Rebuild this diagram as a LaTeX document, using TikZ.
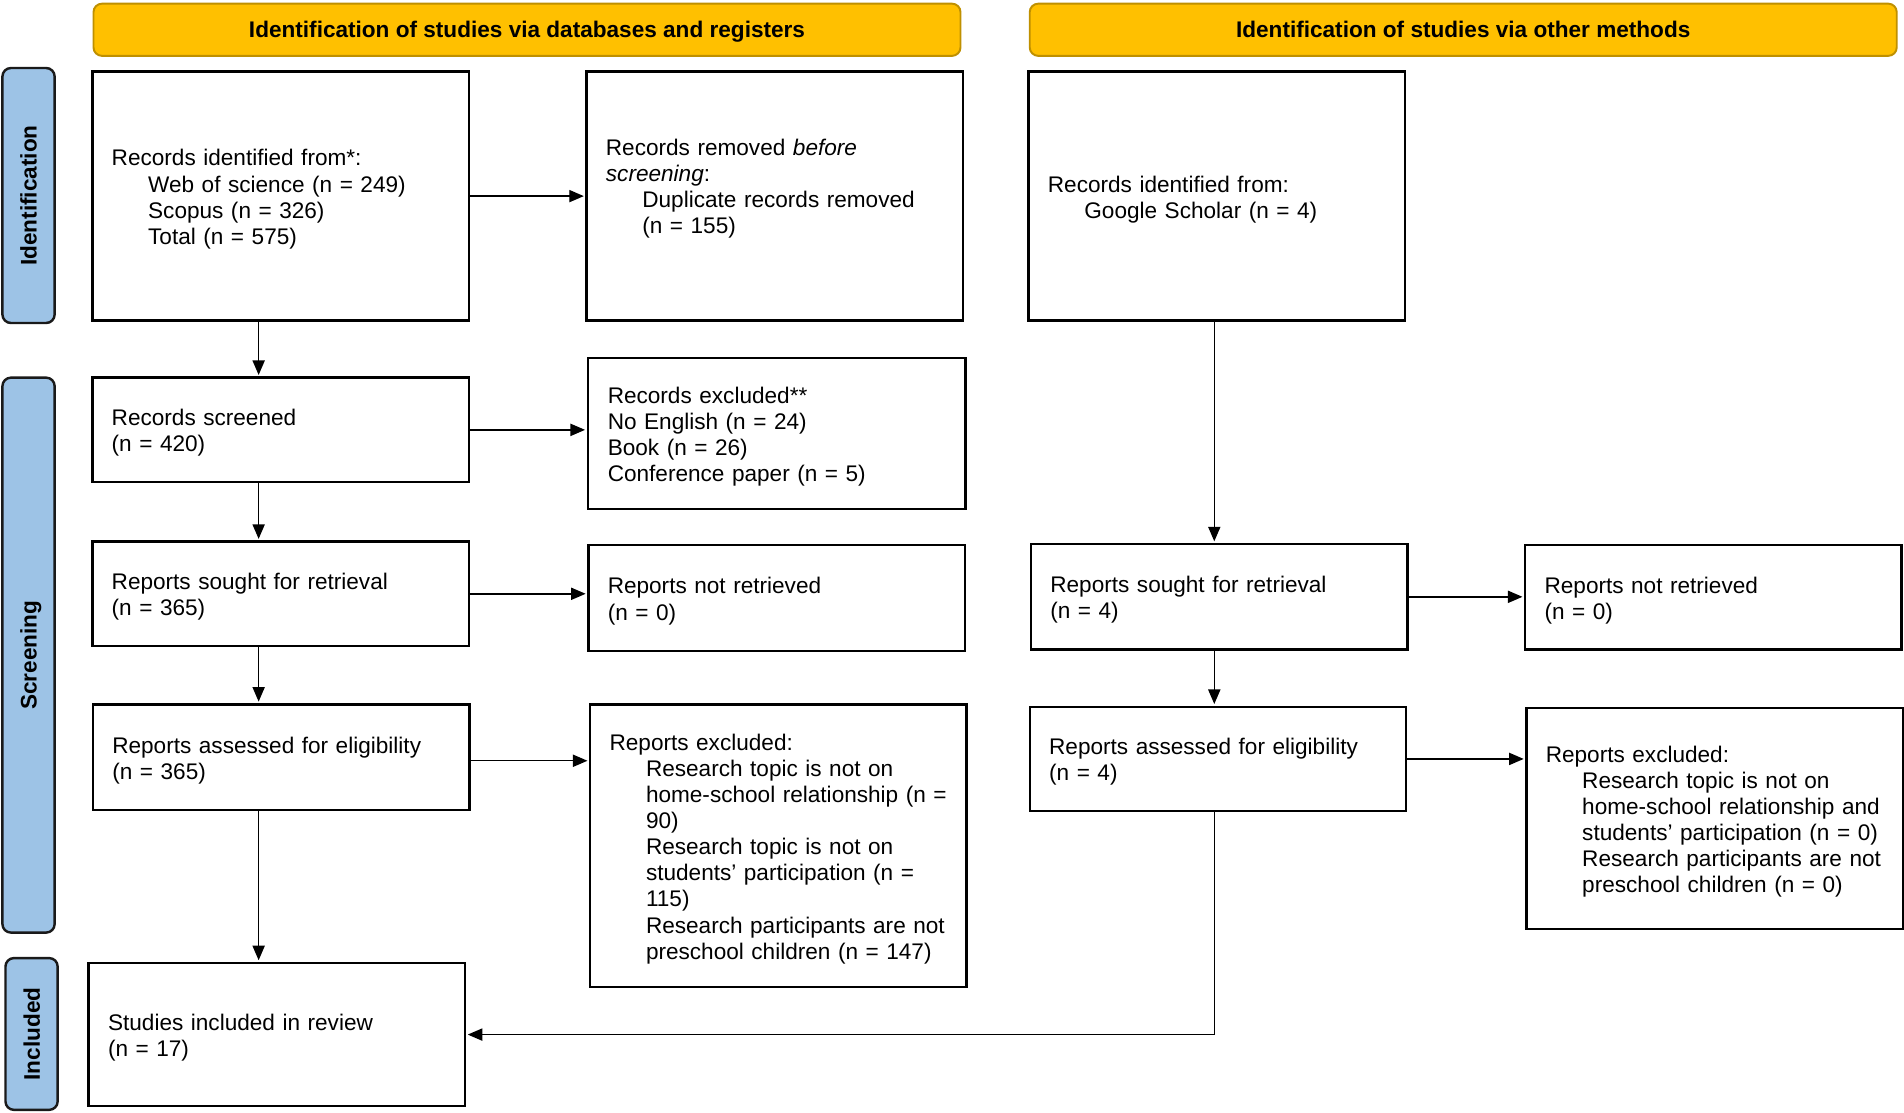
\documentclass[tikz,border=0pt]{standalone}
\usepackage{fontspec}
\setmainfont{Liberation Sans}
\usetikzlibrary{arrows.meta,calc}
\definecolor{yelF}{HTML}{FFC000}
\definecolor{yelD}{HTML}{BF9000}
\definecolor{bluF}{HTML}{9DC3E6}
\definecolor{bluD}{HTML}{1A1A1A}
\newcommand\myln[1]{\mbox{#1}}
\newcommand\myind[1]{\mbox{\hspace*{15pt}#1}}
\begin{document}
\begin{tikzpicture}[x=0.5pt,y=-0.5pt,
  txt/.style={font=\fontsize{9.3pt}{10.75pt}\selectfont},
  boxx/.style={txt,draw=black,line width=1pt,fill=white,rectangle,
    inner xsep=8pt,inner ysep=0pt,text width=139pt,align=left,
    minimum width=155pt,execute at begin node={\rule{0pt}{9.3pt}}},
  headbox/.style={draw=yelD,fill=yelF,line width=0.8pt,rounded corners=3.5pt,
    minimum width=357pt,minimum height=21.5pt,text depth=0pt,
    font=\fontsize{9.3pt}{10.75pt}\selectfont\bfseries},
  sidebox/.style={draw=bluD,fill=bluF,line width=1pt,rounded corners=3.5pt,
    minimum height=21.5pt,inner sep=0pt,text depth=0pt,rotate=90,
    font=\fontsize{9.3pt}{10.75pt}\selectfont\bfseries},
  arr/.style={line width=0.6pt,-{Triangle[length=6pt,width=5pt]},shorten >=0.6pt}
]
\useasboundingbox[fill=white] (0,0) rectangle (1568,915.8);

% headers
\node[headbox] (H1) at (434,24.5) {Identification of studies via databases and registers};
\node[headbox] (H2) at (1205,24.5) {Identification of studies via other methods};

% side labels
\node[sidebox,minimum width=105pt] (S1) at (23.5,161) {Identification};
\node[sidebox,minimum width=228.5pt] (S2) at (23.5,539.5) {Screening};
\node[sidebox,minimum width=62.5pt] (S3) at (26,851.5) {Included};

% left column
\node[boxx,minimum height=102.5pt] (B1) at (231,161.5) {\myln{Records identified from*:}\\
  \myind{Web of science (n = 249)}\\ \myind{Scopus (n = 326)}\\ \myind{Total (n = 575)}};
\node[boxx,minimum height=102.5pt] (B2) at (638,161.5) {\myln{Records removed \textit{before}}\\
  \myln{\textit{screening}:}\\ \myind{Duplicate records removed}\\ \myind{(n = 155)}\\ \mbox{}};
\node[boxx,minimum height=43pt] (B3) at (231,354) {\myln{Records screened}\\ \myln{(n = 420)}};
\node[boxx,minimum width=155.5pt,minimum height=62pt] (B4) at (639.5,357) {\myln{Records excluded**}\\
  \myln{No English (n = 24)}\\ \myln{Book (n = 26)}\\ \myln{Conference paper (n = 5)}};
\node[boxx,minimum height=43pt] (B5) at (231,489) {\myln{Reports sought for retrieval}\\ \myln{(n = 365)}};
\node[boxx,minimum height=43.5pt] (B6) at (639.5,492.5) {\myln{Reports not retrieved}\\ \myln{(n = 0)}};
\node[boxx,minimum height=43.5pt] (B7) at (231.5,623.5) {\myln{Reports assessed for eligibility}\\ \myln{(n = 365)}};
\node[boxx,minimum height=116.5pt] (B8) at (641,696.5) {\myln{Reports excluded:}\\
  \myind{Research topic is not on}\\ \myind{home-school relationship (n =}\\ \myind{90)}\\
  \myind{Research topic is not on}\\ \myind{students’ participation (n =}\\ \myind{115)}\\
  \myind{Research participants are not}\\ \myind{preschool children (n = 147)}};
\node[boxx,minimum height=59pt] (B9) at (228,852) {\myln{Studies included in review}\\ \myln{(n = 17)}};

% right column
\node[boxx,minimum height=102.5pt] (R1) at (1002,161.5) {\myln{Records identified from:}\\
  \myind{Google Scholar (n = 4)}};
\node[boxx,minimum height=43.5pt] (R2) at (1004,491.5) {\myln{Reports sought for retrieval}\\ \myln{(n = 4)}};
\node[boxx,minimum height=43pt] (R3) at (1411,492) {\myln{Reports not retrieved}\\ \myln{(n = 0)}};
\node[boxx,minimum height=43pt] (R4) at (1003,625) {\myln{Reports assessed for eligibility}\\ \myln{(n = 4)}};
\node[boxx,minimum height=91pt] (R5) at (1412,674) {\myln{Reports excluded:}\\
  \myind{Research topic is not on}\\ \myind{home-school relationship and}\\
  \myind{students’ participation (n = 0)}\\ \myind{Research participants are not}\\
  \myind{preschool children (n = 0)}};

% connectors
\coordinate (cL) at (213,0);
\coordinate (cR) at (1000,0);
\draw[arr] (B1.south -| cL) -- (B3.north -| cL);
\draw[arr] (B3.south -| cL) -- (B5.north -| cL);
\draw[arr] (B5.south -| cL) -- (B7.north -| cL);
\draw[arr] (B7.south -| cL) -- (B9.north -| cL);
\draw[arr] (B1.east) -- (B1.east -| B2.west);
\draw[arr] (B3.east) -- (B3.east -| B4.west);
\draw[arr] (B5.east) -- (B5.east -| B6.west);
\draw[arr] ([yshift=-1.5pt]B7.east) -- ([yshift=-1.5pt]B7.east -| B8.west);
\draw[arr] (R1.south -| cR) -- (R2.north -| cR);
\draw[arr] (R2.south -| cR) -- (R4.north -| cR);
\draw[arr] (R2.east) -- (R2.east -| R3.west);
\draw[arr] (R4.east) -- (R4.east -| R5.west);
\draw[arr] (R4.south -| cR) |- (B9.east);
\end{tikzpicture}
\end{document}
